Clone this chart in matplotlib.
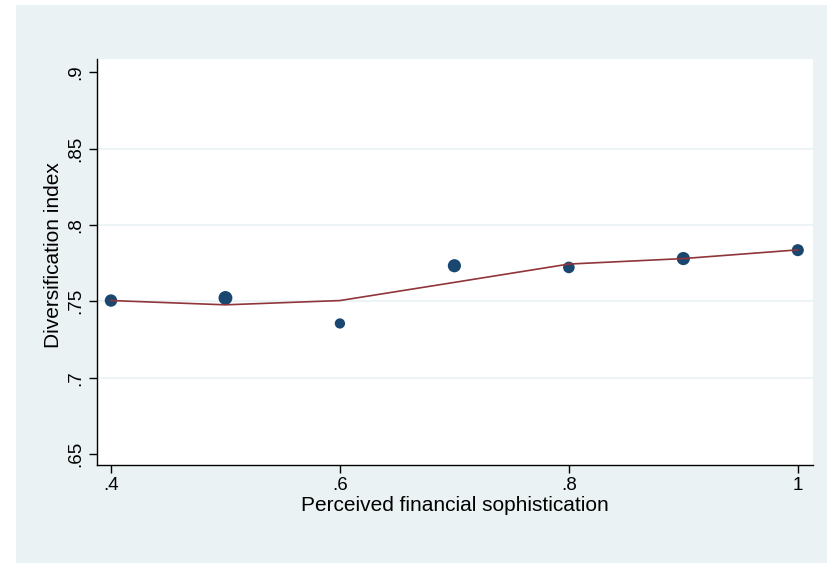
import matplotlib
matplotlib.use("Agg")
import matplotlib.pyplot as plt
from matplotlib.patches import Rectangle

# binned means and smoothed fit
sophistication = [0.4, 0.5, 0.6, 0.7, 0.8, 0.9, 1.0]
div_index = [0.7505, 0.7522, 0.7355, 0.7733, 0.7722, 0.7780, 0.7835]
point_size = [80, 100, 55, 90, 70, 90, 75]
fit_index = [0.7505, 0.7477, 0.7505, 0.7624, 0.7744, 0.7780, 0.7837]

x_ticks = [0.4, 0.6, 0.8, 1.0]
x_tick_labels = [".4", ".6", ".8", "1"]
y_ticks = [0.65, 0.7, 0.75, 0.8, 0.85, 0.9]
y_tick_labels = [".65", ".7", ".75", ".8", ".85", ".9"]
grid_levels = [0.7, 0.75, 0.8, 0.85]

plt.rcParams["font.family"] = ["Liberation Sans", "DejaVu Sans"]

W, H = 827, 564
fig = plt.figure(figsize=(W / 100, H / 100), dpi=100)
fig.patch.set_facecolor("white")
bg = Rectangle((16 / W, 1 - 563 / H), 1 - 16 / W, (563 - 5) / H,
               transform=fig.transFigure, facecolor="#EAF2F3",
               edgecolor="none", zorder=-10)
fig.add_artist(bg)

ax = fig.add_axes([97 / W, 1 - 465 / H, (812.7 - 97) / W, (465 - 59.3) / H])
ax.set_facecolor("white")

for g in grid_levels:
    ax.axhline(g, color="#EAF2F3", linewidth=1.2, zorder=1)

ax.scatter(sophistication, div_index, s=point_size, color="#1A476F",
           edgecolors="none", zorder=3)
ax.plot(sophistication, fit_index, color="#90353B", linewidth=1.2, zorder=4)

ax.set_xlim(0.3878, 1.013)
ax.set_ylim(0.6428, 0.9085)
ax.set_xticks(x_ticks)
ax.set_xticklabels(x_tick_labels, fontsize=13.5)
ax.set_yticks(y_ticks)
ax.set_yticklabels(y_tick_labels, fontsize=13.5, rotation=90, va="center")

for side in ["top", "right"]:
    ax.spines[side].set_visible(False)
for side in ["left", "bottom"]:
    ax.spines[side].set_linewidth(1.0)
ax.tick_params(direction="out", length=6, width=1, pad=3)

ax.set_xlabel("Perceived financial sophistication", fontsize=15, labelpad=1)
ax.set_ylabel("Diversification index", fontsize=15)
ax.yaxis.set_label_coords(-0.048, 0.517)

fig.savefig("out.png", dpi=100)
